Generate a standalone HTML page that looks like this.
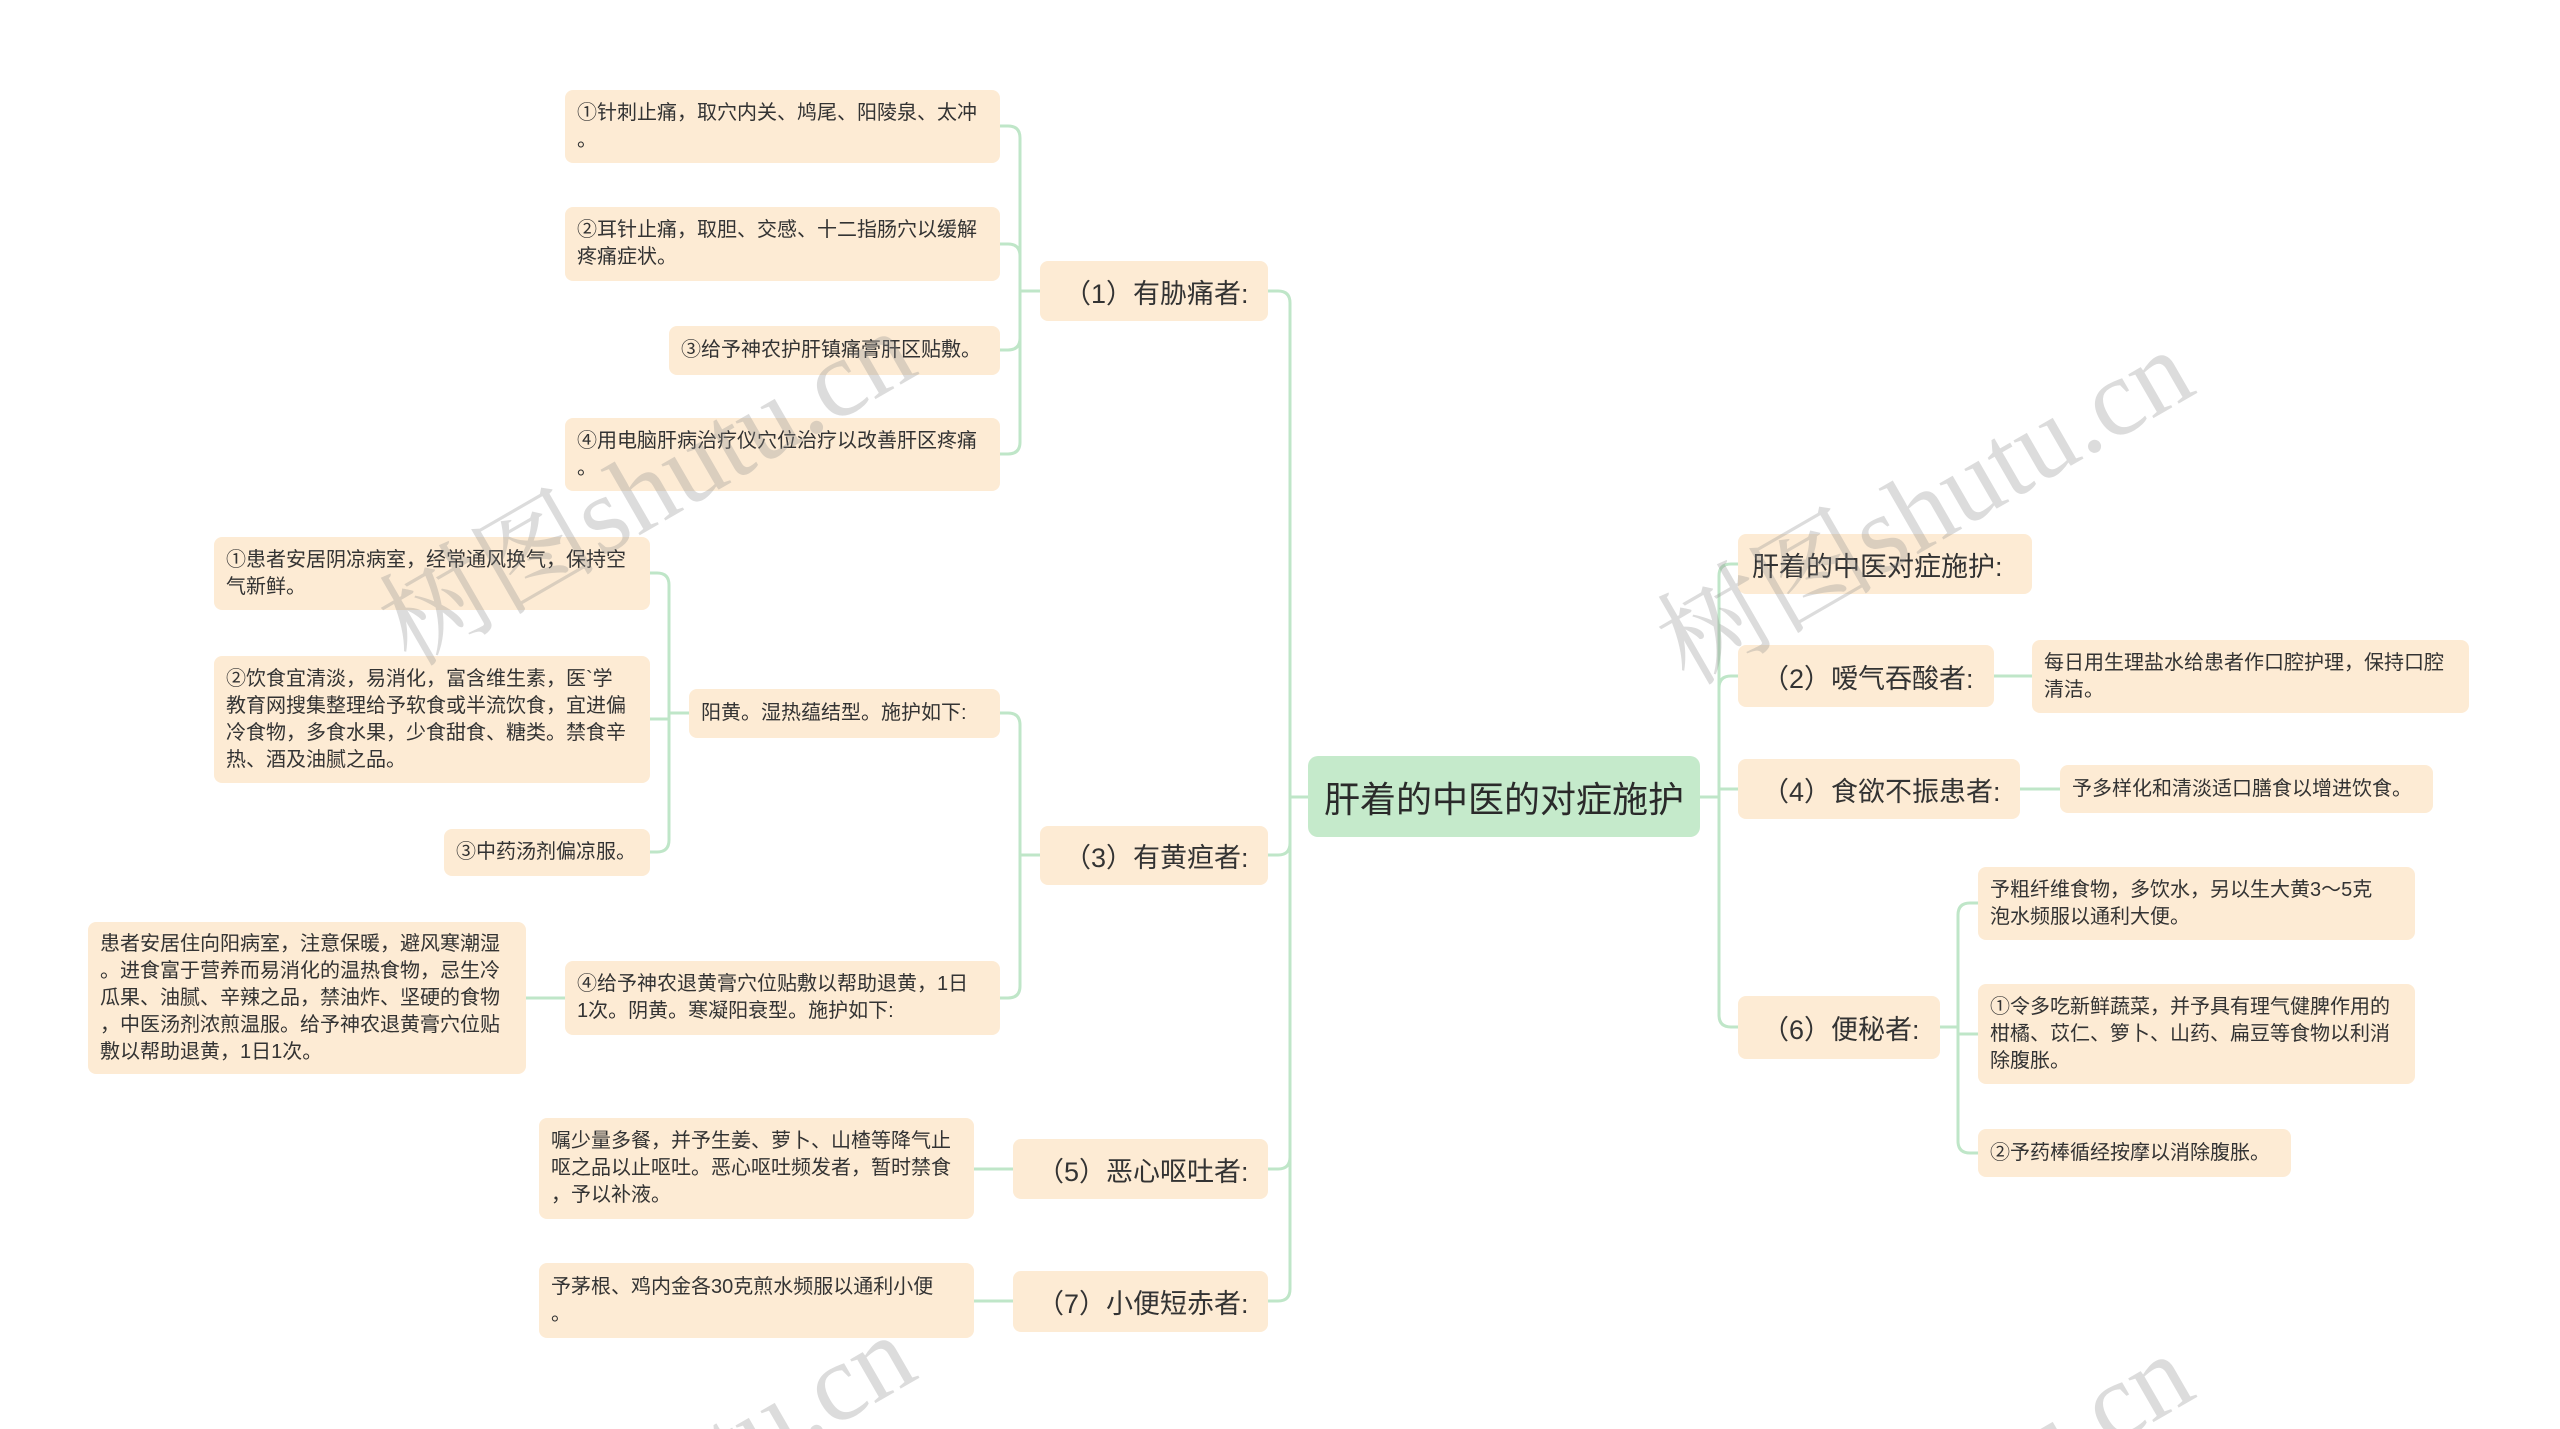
<!DOCTYPE html>
<html><head><meta charset="utf-8">
<style>
html,body{margin:0;padding:0;background:#fff;width:2560px;height:1429px;overflow:hidden;}
#wrap{position:absolute;left:0;top:0;width:2560px;height:1429px;overflow:hidden;font-family:"Liberation Sans","Noto Sans CJK SC",sans-serif;color:#333;}
.n{position:absolute;background:#fdebd4;border-radius:8px;box-sizing:border-box;display:flex;align-items:center;white-space:nowrap;}
.s{font-size:20px;line-height:27px;padding:0 12px;}
.l{font-size:27px;padding:0 24px;}
.root{background:#c5eacb;border-radius:10px;font-size:36px;justify-content:center;color:#2a2a2a;}
svg{position:absolute;left:0;top:0;overflow:hidden;}
.wm{font-family:"Liberation Serif","Noto Serif CJK SC",serif;font-size:110px;fill:rgba(140,140,140,0.3);stroke:none;}
</style></head><body><div id="wrap">
<svg width="2560" height="1429" fill="none" stroke="#bfe6c8" stroke-width="3">
<path d="M1308,797 H1290 V303 Q1290,291 1278,291 H1268"/>
<path d="M1308,797 H1290 V843 Q1290,855 1278,855 H1268"/>
<path d="M1308,797 H1290 V1157 Q1290,1169 1278,1169 H1268"/>
<path d="M1308,797 H1290 V1289 Q1290,1301 1278,1301 H1268"/>
<path d="M1040,291 H1020 V138 Q1020,126 1008,126 H1000"/>
<path d="M1040,291 H1020 V256 Q1020,244 1008,244 H1000"/>
<path d="M1040,291 H1020 V338 Q1020,350 1008,350 H1000"/>
<path d="M1040,291 H1020 V442 Q1020,454 1008,454 H1000"/>
<path d="M1040,855 H1020 V725 Q1020,713 1008,713 H1000"/>
<path d="M1040,855 H1020 V986 Q1020,998 1008,998 H1000"/>
<path d="M689,713 H669 V585 Q669,573 657,573 H650"/>
<path d="M689,713 H669 V719 H650"/>
<path d="M689,713 H669 V840 Q669,852 657,852 H650"/>
<path d="M565,998 H526"/>
<path d="M1013,1169 H974"/>
<path d="M1013,1301 H974"/>
<path d="M1700,797 H1719 V576 Q1719,564 1731,564 H1738"/>
<path d="M1700,797 H1719 V688 Q1719,676 1731,676 H1738"/>
<path d="M1700,797 H1719 V789 H1738"/>
<path d="M1700,797 H1719 V1015 Q1719,1027 1731,1027 H1738"/>
<path d="M1994,676 H2032"/>
<path d="M2020,789 H2060"/>
<path d="M1940,1027 H1958 V915 Q1958,903 1970,903 H1978"/>
<path d="M1940,1027 H1958 V1034 H1978"/>
<path d="M1940,1027 H1958 V1141 Q1958,1153 1970,1153 H1978"/>
</svg>

<div class="n root" style="left:1308px;top:756px;width:392px;height:81px;">肝着的中医的对症施护</div>

<div class="n l" style="left:1040px;top:261px;width:228px;height:60px;">（1）有胁痛者:</div>
<div class="n l" style="left:1040px;top:826px;width:228px;height:59px;">（3）有黄疸者:</div>
<div class="n l" style="left:1013px;top:1139px;width:255px;height:60px;">（5）恶心呕吐者:</div>
<div class="n l" style="left:1013px;top:1271px;width:255px;height:61px;">（7）小便短赤者:</div>

<div class="n s" style="left:565px;top:90px;width:435px;height:73px;">①针刺止痛，取穴内关、鸠尾、阳陵泉、太冲<br>。</div>
<div class="n s" style="left:565px;top:207px;width:435px;height:74px;">②耳针止痛，取胆、交感、十二指肠穴以缓解<br>疼痛症状。</div>
<div class="n s" style="left:669px;top:326px;width:331px;height:49px;">③给予神农护肝镇痛膏肝区贴敷。</div>
<div class="n s" style="left:565px;top:418px;width:435px;height:73px;">④用电脑肝病治疗仪穴位治疗以改善肝区疼痛<br>。</div>

<div class="n s" style="left:689px;top:689px;width:311px;height:49px;">阳黄。湿热蕴结型。施护如下:</div>
<div class="n s" style="left:565px;top:961px;width:435px;height:74px;">④给予神农退黄膏穴位贴敷以帮助退黄，1日<br>1次。阴黄。寒凝阳衰型。施护如下:</div>

<div class="n s" style="left:214px;top:537px;width:436px;height:73px;">①患者安居阴凉病室，经常通风换气，保持空<br>气新鲜。</div>
<div class="n s" style="left:214px;top:656px;width:436px;height:127px;">②饮食宜清淡，易消化，富含维生素，医`学<br>教育网搜集整理给予软食或半流饮食，宜进偏<br>冷食物，多食水果，少食甜食、糖类。禁食辛<br>热、酒及油腻之品。</div>
<div class="n s" style="left:444px;top:829px;width:206px;height:47px;">③中药汤剂偏凉服。</div>

<div class="n s" style="left:88px;top:922px;width:438px;height:152px;">患者安居住向阳病室，注意保暖，避风寒潮湿<br>。进食富于营养而易消化的温热食物，忌生冷<br>瓜果、油腻、辛辣之品，禁油炸、坚硬的食物<br>，中医汤剂浓煎温服。给予神农退黄膏穴位贴<br>敷以帮助退黄，1日1次。</div>

<div class="n s" style="left:539px;top:1118px;width:435px;height:101px;">嘱少量多餐，并予生姜、萝卜、山楂等降气止<br>呕之品以止呕吐。恶心呕吐频发者，暂时禁食<br>，予以补液。</div>
<div class="n s" style="left:539px;top:1263px;width:435px;height:75px;">予茅根、鸡内金各30克煎水频服以通利小便<br>。</div>

<div class="n l" style="left:1738px;top:534px;width:294px;height:60px;padding:0 14px;">肝着的中医对症施护:</div>
<div class="n l" style="left:1738px;top:645px;width:256px;height:62px;">（2）嗳气吞酸者:</div>
<div class="n l" style="left:1738px;top:759px;width:282px;height:60px;">（4）食欲不振患者:</div>
<div class="n l" style="left:1738px;top:996px;width:202px;height:63px;">（6）便秘者:</div>

<div class="n s" style="left:2032px;top:640px;width:437px;height:73px;">每日用生理盐水给患者作口腔护理，保持口腔<br>清洁。</div>
<div class="n s" style="left:2060px;top:765px;width:373px;height:48px;">予多样化和清淡适口膳食以增进饮食。</div>
<div class="n s" style="left:1978px;top:867px;width:437px;height:73px;">予粗纤维食物，多饮水，另以生大黄3～5克<br>泡水频服以通利大便。</div>
<div class="n s" style="left:1978px;top:984px;width:437px;height:100px;">①令多吃新鲜蔬菜，并予具有理气健脾作用的<br>柑橘、苡仁、箩卜、山药、扁豆等食物以利消<br>除腹胀。</div>
<div class="n s" style="left:1978px;top:1129px;width:313px;height:48px;">②予药棒循经按摩以消除腹胀。</div>

<svg width="2560" height="1429">
<text class="wm" x="648" y="525" text-anchor="middle" transform="rotate(-30 648 490)">树图shutu.cn</text>
<text class="wm" x="1926" y="544" text-anchor="middle" transform="rotate(-30 1926 509)">树图shutu.cn</text>
<text class="wm" x="648" y="1529" text-anchor="middle" transform="rotate(-30 648 1494)">树图shutu.cn</text>
<text class="wm" x="1926" y="1548" text-anchor="middle" transform="rotate(-30 1926 1513)">树图shutu.cn</text>
</svg>
</div></body></html>
